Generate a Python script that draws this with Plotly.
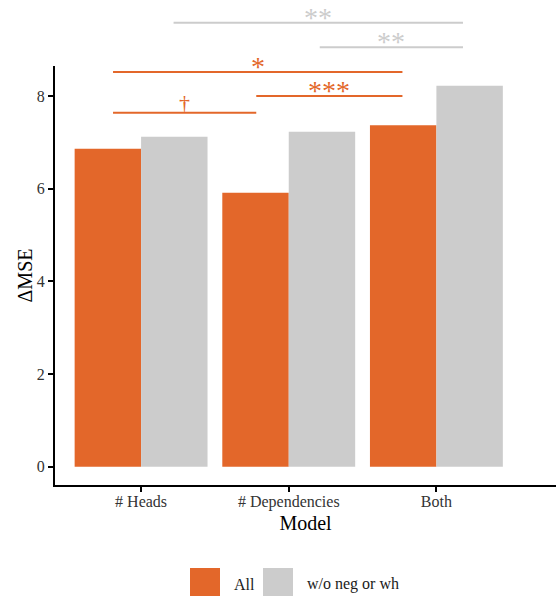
import plotly.graph_objects as go

# ---------------- data ----------------
categories = ["# Heads", "# Dependencies", "Both"]
series_names = ["All", "w/o neg or wh"]
all_values = [6.86, 5.91, 7.37]
wo_values = [7.12, 7.23, 8.22]
y_ticks = [0, 2, 4, 6, 8]

# significance brackets (category-index x0, x1, data y, label)
orange_brackets_x0 = [-0.19, 0.78, -0.19]
orange_brackets_x1 = [0.78, 1.77, 1.77]
orange_brackets_y = [7.64, 8.0, 8.52]
orange_labels = ["\u2020", "***", "*"]

grey_brackets_x0 = [1.21, 0.22]
grey_brackets_x1 = [2.18, 2.18]
grey_brackets_y = [9.05, 9.58]
grey_labels = ["**", "**"]

# ---------------- style ----------------
ORANGE = "#E3672A"
GREY = "#CCCCCC"
FONT = "Liberation Serif"
W, H = 556, 596
ML, MR, MT, MB = 55, 0, 66, 111
Y_RANGE = [-0.395, 8.647]
X_RANGE = [-0.583, 2.81]

def yp(v):
    return (v - Y_RANGE[0]) / (Y_RANGE[1] - Y_RANGE[0])

def px_x(p):
    return (p - ML) / (W - ML - MR)

def px_y(p):
    return (H - MB - p) / (H - MT - MB)

fig = go.Figure()
fig.add_trace(go.Bar(x=categories, y=all_values, name=series_names[0],
                     marker=dict(color=ORANGE, line=dict(width=0)), showlegend=False))
fig.add_trace(go.Bar(x=categories, y=wo_values, name=series_names[1],
                     marker=dict(color=GREY, line=dict(width=0)), showlegend=False))

shapes = []
annotations = []

def add_brackets(x0s, x1s, ys, labels, color):
    for x0, x1, y, lab in zip(x0s, x1s, ys, labels):
        shapes.append(dict(type="line", xref="x", yref="paper", x0=x0, x1=x1,
                           y0=yp(y), y1=yp(y), line=dict(color=color, width=2)))
        is_dag = lab == "\u2020"
        annotations.append(dict(x=(x0 + x1) / 2, y=yp(y), xref="x", yref="paper",
                                text=lab, showarrow=False, yanchor="bottom",
                                yshift=(-4 if is_dag else -12),
                                font=dict(family=FONT, size=(22 if is_dag else 28), color=color)))

add_brackets(orange_brackets_x0, orange_brackets_x1, orange_brackets_y, orange_labels, ORANGE)
add_brackets(grey_brackets_x0, grey_brackets_x1, grey_brackets_y, grey_labels, GREY)

# manual legend
legend_items = [(series_names[0], ORANGE, 190, 232), (series_names[1], GREY, 263, 305)]
for name, col, bx, tx in legend_items:
    shapes.append(dict(type="rect", xref="paper", yref="paper",
                       x0=px_x(bx), x1=px_x(bx + 30), y0=px_y(568), y1=px_y(598),
                       fillcolor=col, line=dict(width=0)))
    annotations.append(dict(x=px_x(tx), y=px_y(584), xref="paper", yref="paper",
                            text=name, showarrow=False, xanchor="left", yanchor="middle",
                            font=dict(family=FONT, size=16, color="#1a1a1a")))

# y-axis title
annotations.append(dict(x=px_x(24), y=0.5, xref="paper", yref="paper", text="\u0394MSE",
                        textangle=-90, showarrow=False, xanchor="center", yanchor="middle",
                        font=dict(family=FONT, size=20, color="black")))

fig.update_layout(
    width=W, height=H,
    margin=dict(l=ML, r=MR, t=MT, b=MB, autoexpand=False),
    plot_bgcolor="white", paper_bgcolor="white",
    barmode="group", bargap=0.1, bargroupgap=0,
    font=dict(family=FONT, size=16, color="#1a1a1a"),
    shapes=shapes, annotations=annotations,
    showlegend=False,
)
fig.update_xaxes(type="category", range=X_RANGE, showline=True, linecolor="black", linewidth=2,
                 ticks="outside", ticklen=5, tickwidth=2, tickcolor="black",
                 showgrid=False, zeroline=False, automargin=False, ticklabelstandoff=-4,
                 tickfont=dict(family=FONT, size=16, color="#333333"),
                 title=dict(text="Model", font=dict(family=FONT, size=20, color="black"), standoff=6))
fig.update_yaxes(range=Y_RANGE, tickvals=y_ticks, showline=True, linecolor="black", linewidth=2,
                 ticks="outside", ticklen=5, tickwidth=2, tickcolor="black",
                 showgrid=False, zeroline=False, automargin=False,
                 tickfont=dict(family=FONT, size=16, color="#333333"))

fig.write_html("out.html", config={"displayModeBar": False},
               post_script="document.body.style.margin='0';document.body.style.overflow='hidden';")
